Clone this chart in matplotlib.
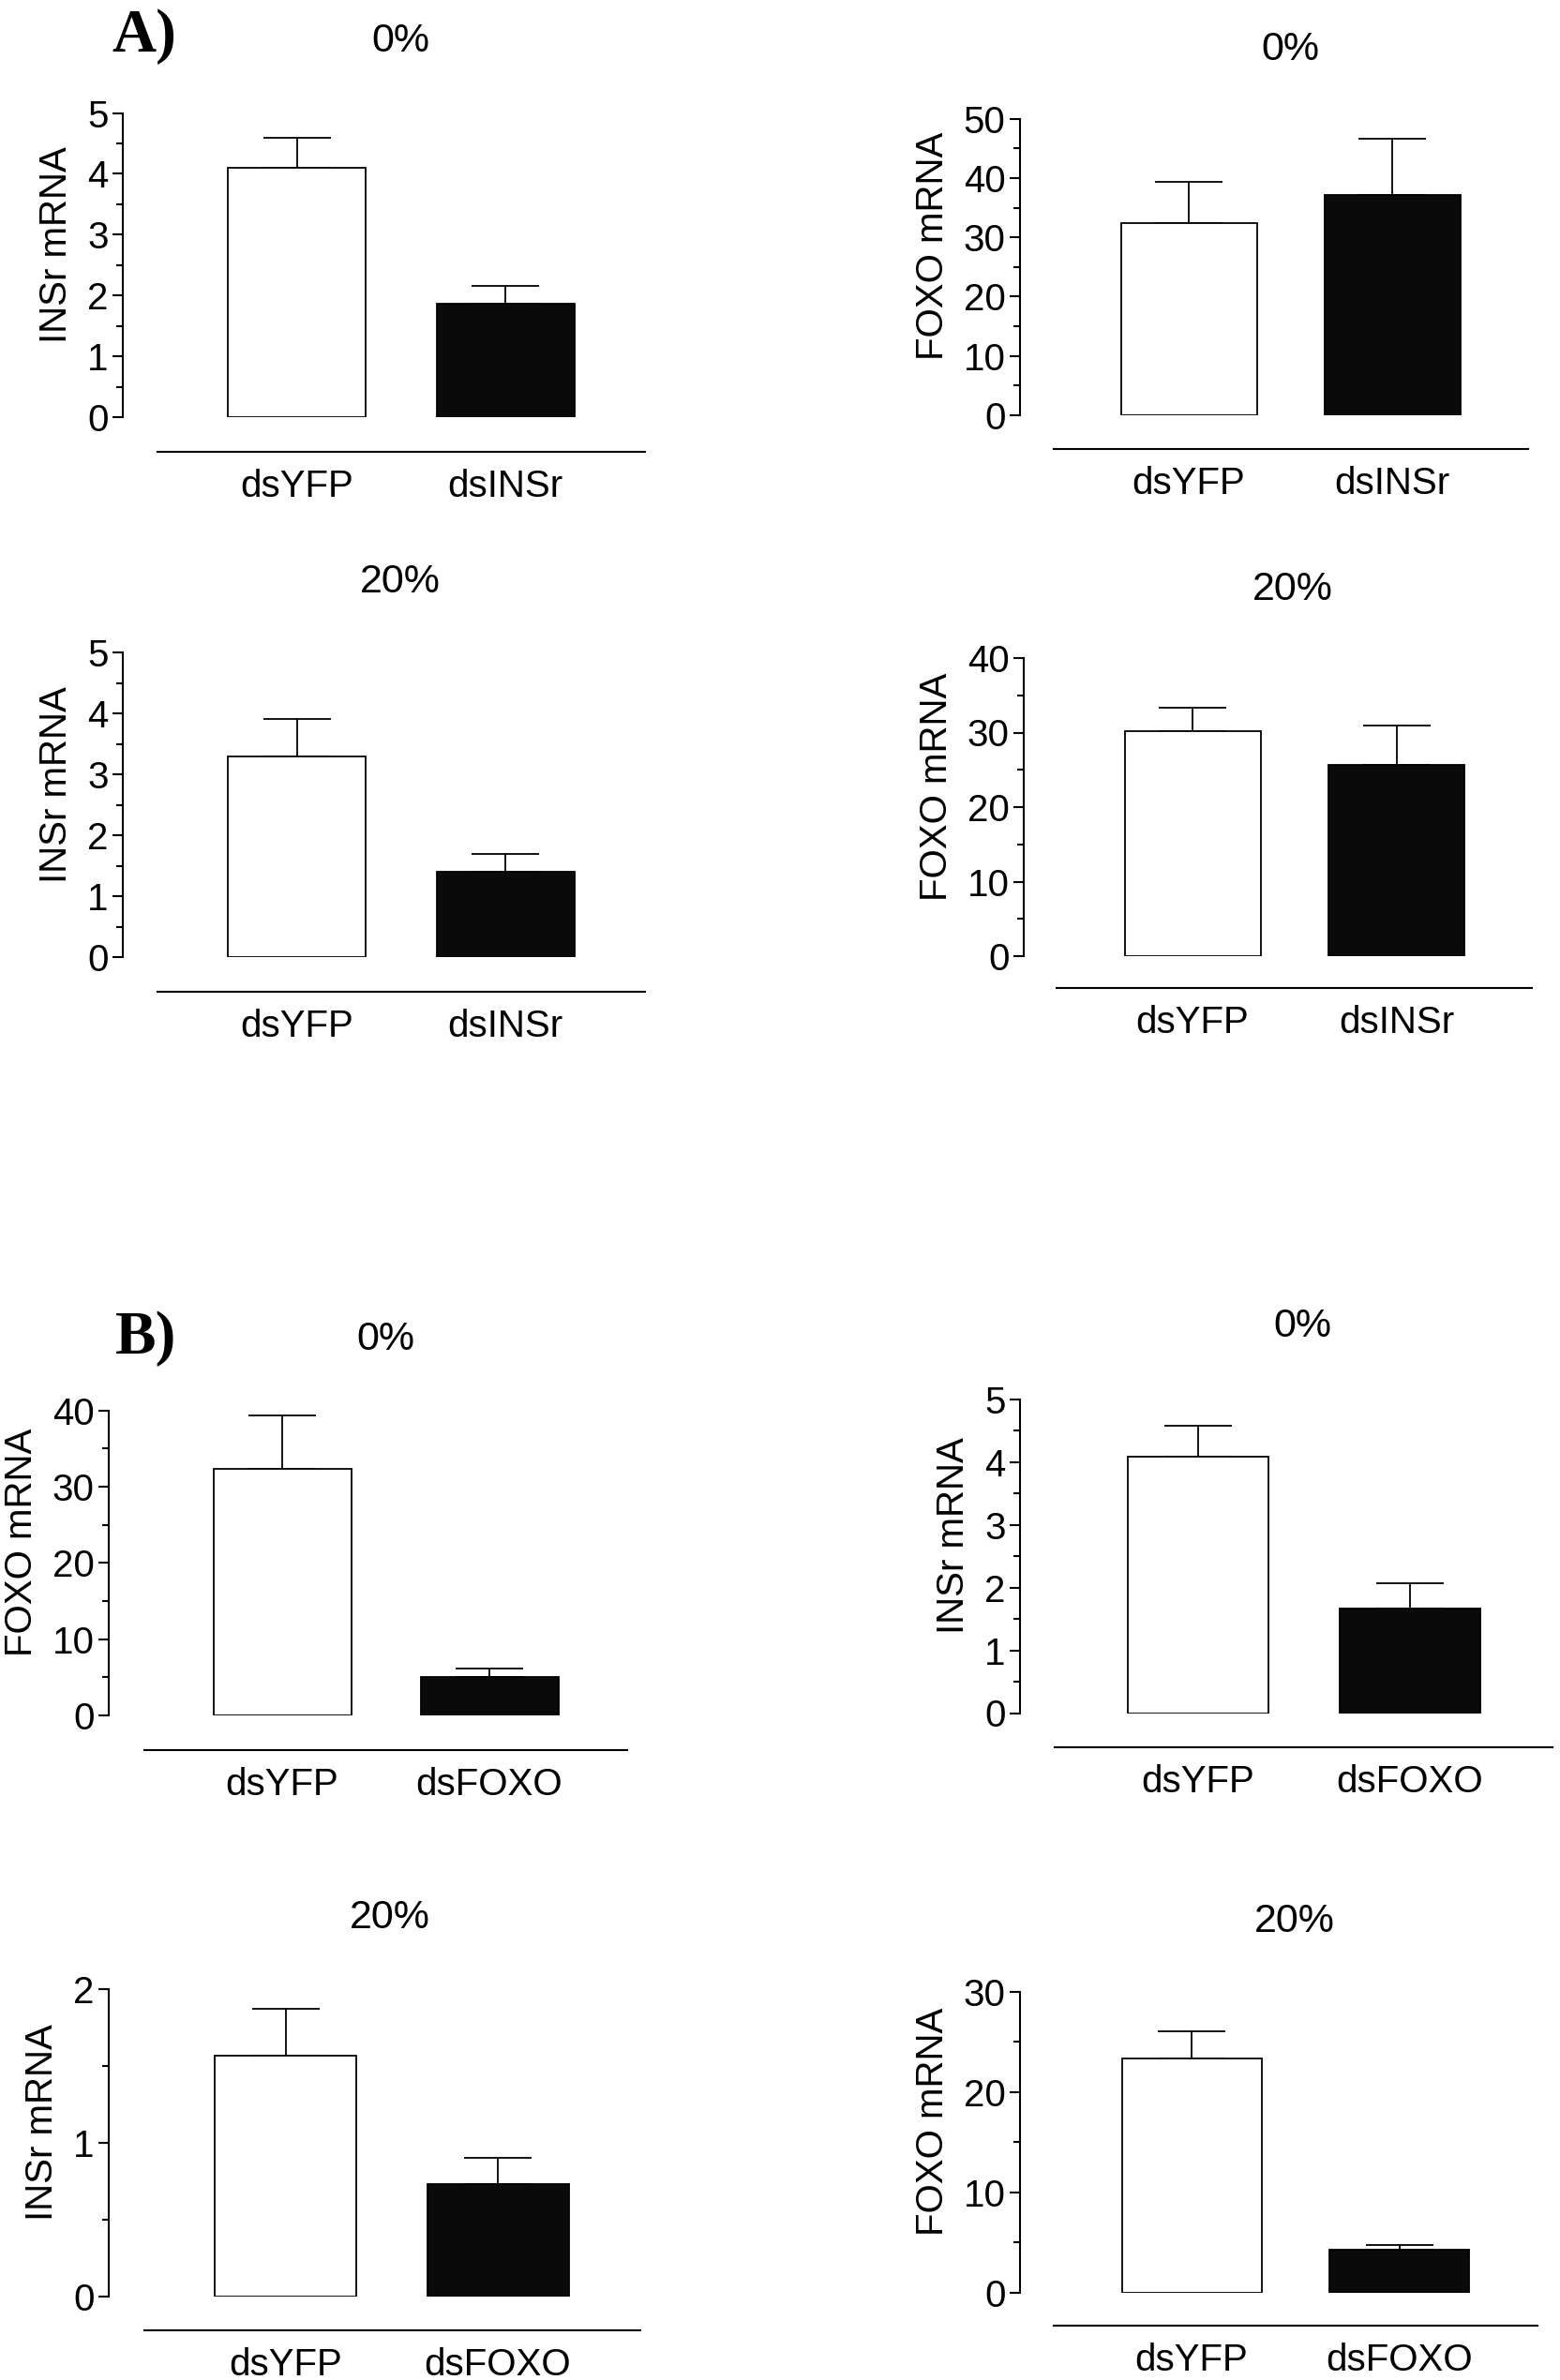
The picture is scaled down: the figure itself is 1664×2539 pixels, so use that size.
import matplotlib
matplotlib.use("Agg")
import matplotlib.pyplot as plt
from matplotlib.ticker import MultipleLocator

plt.rcParams['font.family'] = ['Liberation Sans', 'DejaVu Sans']

# ==========================================================
# DATA
# ==========================================================
groups_A = ['dsYFP', 'dsINSr']
groups_B = ['dsYFP', 'dsFOXO']

titles = ['0%', '0%', '20%', '20%', '0%', '0%', '20%', '20%']
ylabels = ['INSr mRNA', 'FOXO mRNA', 'INSr mRNA', 'FOXO mRNA',
           'FOXO mRNA', 'INSr mRNA', 'INSr mRNA', 'FOXO mRNA']

means_A0_insr = [4.10, 1.86]
sem_A0_insr = [0.50, 0.30]
means_A0_foxo = [32.4, 37.1]
sem_A0_foxo = [6.9, 9.5]
means_A20_insr = [3.29, 1.40]
sem_A20_insr = [0.62, 0.29]
means_A20_foxo = [30.2, 25.7]
sem_A20_foxo = [3.1, 5.2]

means_B0_foxo = [32.4, 5.1]
sem_B0_foxo = [7.0, 1.0]
means_B0_insr = [4.09, 1.67]
sem_B0_insr = [0.49, 0.40]
means_B20_insr = [1.57, 0.73]
sem_B20_insr = [0.30, 0.17]
means_B20_foxo = [23.3, 4.3]
sem_B20_foxo = [2.8, 0.4]

y_max = [5, 50, 5, 40, 40, 5, 2, 30]
y_major = [1, 10, 1, 10, 10, 1, 1, 10]
y_minor = [0.5, 5, 0.5, 5, 5, 0.5, 0.5, 5]

panels = [
    (groups_A, means_A0_insr, sem_A0_insr),
    (groups_A, means_A0_foxo, sem_A0_foxo),
    (groups_A, means_A20_insr, sem_A20_insr),
    (groups_A, means_A20_foxo, sem_A20_foxo),
    (groups_B, means_B0_foxo, sem_B0_foxo),
    (groups_B, means_B0_insr, sem_B0_insr),
    (groups_B, means_B20_insr, sem_B20_insr),
    (groups_B, means_B20_foxo, sem_B20_foxo),
]

# ==========================================================
# LAYOUT (pixels in the 1664 x 2539 image)
# axis_x, line_start, right, line_y, y_top, y_zero, c1, c2, bar_w,
# title_x, title_baseline
# ==========================================================
W, H = 1664, 2539
layout = [
    (131, 168, 688, 481.6, 120.6, 445.0, 316.5, 539.0, 147, 427, 55),
    (1088, 1124, 1630, 479.0, 126.6, 443.0, 1268.0, 1485.0, 145, 1376, 64),
    (131, 168, 688, 1057.7, 696.0, 1021.5, 316.5, 539.0, 147, 427, 632),
    (1092, 1127, 1634, 1054.0, 702.0, 1020.0, 1272.0, 1489.5, 145, 1379, 640),
    (116, 154, 669, 1866.5, 1504.8, 1830.0, 301.0, 522.0, 147, 411, 1440),
    (1088, 1125, 1656, 1864.0, 1492.8, 1827.5, 1277.5, 1504.0, 150, 1389, 1426),
    (116, 154, 683, 2486.0, 2122.0, 2450.0, 304.5, 531.0, 151, 416, 2057),
    (1088, 1124, 1640, 2481.0, 2124.8, 2445.7, 1271.0, 1492.5, 149, 1381, 2061),
]

FS = 29

fig = plt.figure(figsize=(W / 100, H / 100), dpi=100)

for i, (groups, means, sems) in enumerate(panels):
    L, S, R, ly, ytop, y0, c1, c2, bw, tx, ty = layout[i]
    unit = c2 - c1

    ax = fig.add_axes([L / W, 1 - y0 / H, (R - L) / W, (y0 - ytop) / H])

    x = [0, 1]
    ax.bar(x, means, width=bw / unit,
           color=['white', '#0a0a0a'],
           edgecolor='black', linewidth=1.3, zorder=2)

    ax.errorbar(x, means,
                yerr=[[0, 0], sems],
                fmt='none', ecolor='black',
                elinewidth=1.3, capsize=26, capthick=1.3, zorder=1)

    ax.set_xlim((L - c1) / unit, (R - c1) / unit)
    ax.set_ylim(0, y_max[i])

    ax.yaxis.set_major_locator(MultipleLocator(y_major[i]))
    ax.yaxis.set_minor_locator(MultipleLocator(y_minor[i]))

    for s in ['top', 'right']:
        ax.spines[s].set_visible(False)
    ax.spines['left'].set_linewidth(1.5)
    ax.spines['bottom'].set_linewidth(1.5)
    ax.spines['bottom'].set_position(('outward', (ly - y0) * 0.72))
    ax.spines['bottom'].set_bounds((S - c1) / unit, (R - c1) / unit)

    ax.set_xticks(x)
    ax.set_xticklabels(groups, fontsize=FS)
    ax.tick_params(axis='x', length=0, pad=13)
    ax.tick_params(axis='y', which='major', length=8, width=1.5,
                   labelsize=FS, pad=3)
    ax.tick_params(axis='y', which='minor', length=5, width=1.5)

    # label sits a little above the middle of the axis
    ax.set_ylabel(ylabels[i], fontsize=FS, labelpad=10,
                  y=0.5 + 22 / (y0 - ytop))
    ax.patch.set_visible(False)

    fig.text(tx / W, 1 - ty / H, titles[i], fontsize=31,
             ha='center', va='baseline')

# panel letters
fig.text(154 / W, 1 - 55 / H, 'A)', fontsize=47, fontweight='bold',
         family='Liberation Serif', ha='center', va='baseline')
fig.text(156 / W, 1 - 1444 / H, 'B)', fontsize=47, fontweight='bold',
         family='Liberation Serif', ha='center', va='baseline')

fig.savefig("out.png", dpi=100)
